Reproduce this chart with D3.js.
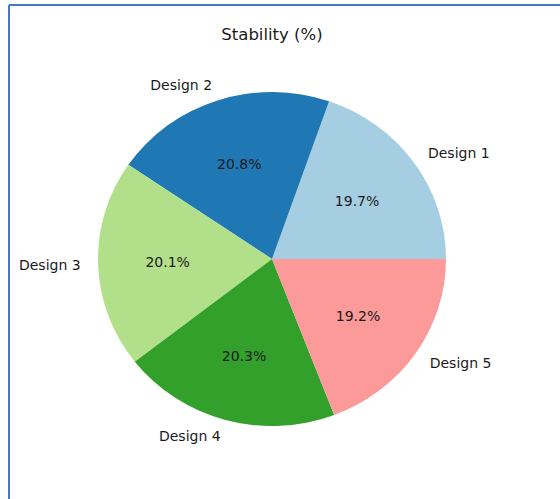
<!DOCTYPE html>
<html>
<head>
<meta charset="utf-8">
<script src="https://cdn.jsdelivr.net/npm/d3@7"></script>
<style>
  html, body { margin: 0; padding: 0; background: #fff; }
  svg { display: block; }
  text { font-family: "DejaVu Sans", sans-serif; fill: #1a1a1a; }
</style>
</head>
<body>
<script>
const categories = ["Design 1", "Design 2", "Design 3", "Design 4", "Design 5"];
const values = [19.7, 20.8, 20.1, 20.3, 19.2];
const colors = ["#a6cee3", "#1f78b4", "#b2df8a", "#33a02c", "#fb9a99"];
const title = "Stability (%)";

const W = 560, H = 499;
const cx = 272, cy = 259, r = 167, sx = 1.042;

const svg = d3.select("body").append("svg").attr("width", W).attr("height", H);
svg.append("rect").attr("width", W).attr("height", H).attr("fill", "#fff");

// frame lines
svg.append("line").attr("x1", 9).attr("x2", W).attr("y1", 5).attr("y2", 5)
  .attr("stroke", "#4a76c8").attr("stroke-width", 2);
svg.append("line").attr("x1", 9).attr("x2", 9).attr("y1", 5).attr("y2", H)
  .attr("stroke", "#4a76c8").attr("stroke-width", 2);

const data = categories.map((c, i) => ({ name: c, value: values[i], color: colors[i] }));
const total = d3.sum(values);

const pie = d3.pie().value(d => d.value).sort(null)
  .startAngle(Math.PI / 2).endAngle(Math.PI / 2 - 2 * Math.PI);
const arcs = pie(data);

const arc = d3.arc().innerRadius(0).outerRadius(r);
const pctArc = d3.arc().innerRadius(0.6 * r).outerRadius(0.6 * r);
const lblArc = d3.arc().innerRadius(1.1 * r).outerRadius(1.1 * r);

const g = svg.append("g").attr("transform", `translate(${cx},${cy}) scale(${sx},1)`);
g.selectAll("path").data(arcs).join("path")
  .attr("d", arc).attr("fill", d => d.data.color);

// percentage labels
svg.selectAll("text.pct").data(arcs).join("text")
  .attr("class", "pct")
  .attr("x", d => cx + pctArc.centroid(d)[0] * sx)
  .attr("y", d => cy + pctArc.centroid(d)[1])
  .attr("text-anchor", "middle").attr("dominant-baseline", "central")
  .attr("font-size", 14)
  .text(d => (d.data.value / total * 100).toFixed(1) + "%");

// category labels
svg.selectAll("text.lbl").data(arcs).join("text")
  .attr("class", "lbl")
  .attr("x", d => cx + lblArc.centroid(d)[0] * sx)
  .attr("y", d => cy + lblArc.centroid(d)[1])
  .attr("text-anchor", d => lblArc.centroid(d)[0] > 0 ? "start" : "end")
  .attr("dominant-baseline", "central")
  .attr("font-size", 14)
  .text(d => d.data.name);

svg.append("text").attr("x", 272).attr("y", 40)
  .attr("text-anchor", "middle").attr("font-size", 16.5).text(title);
</script>
</body>
</html>
